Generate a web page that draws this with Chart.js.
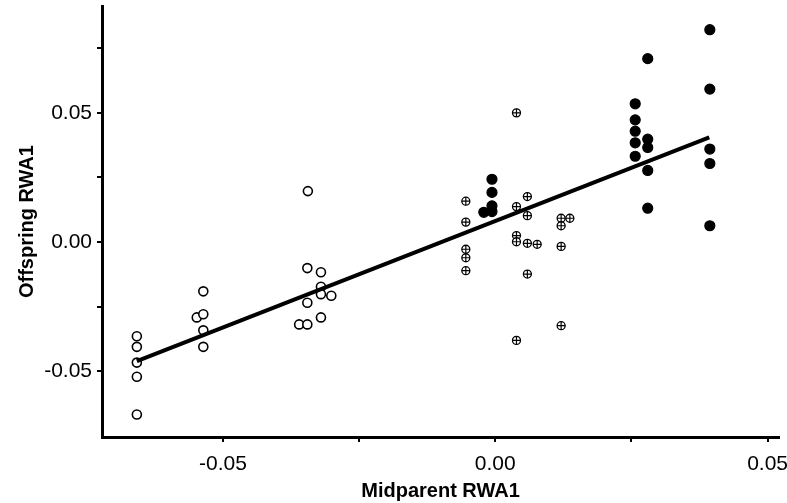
<!DOCTYPE html>
<html>
<head>
<meta charset="utf-8">
<script src="https://cdn.jsdelivr.net/npm/chart.js@4"></script>
<style>
  html, body { margin: 0; padding: 0; background: #fff; }
  #wrap { width: 787px; height: 503px; }
</style>
</head>
<body>
<div id="wrap"><canvas id="grafico"></canvas></div>
<script>
// open circles
const openX = [-0.0658, -0.0658, -0.0658, -0.0658, -0.0658,
  -0.0548, -0.0536, -0.0536, -0.0536, -0.0536,
  -0.0344, -0.0345, -0.0320, -0.0320, -0.0320, -0.0301, -0.0345, -0.0320, -0.0360, -0.0345];
const openY = [-0.0365, -0.0406, -0.0467, -0.0522, -0.0668,
  -0.0292, -0.0191, -0.0280, -0.0342, -0.0406,
  0.0197, -0.0101, -0.0117, -0.0173, -0.0202, -0.0208, -0.0235, -0.0292, -0.0319, -0.0319];

// crossed circles
const crossX = [-0.0054, -0.0054, -0.0054, -0.0054, -0.0054,
  0.0039, 0.0059, 0.0039, 0.0059, 0.0121, 0.0137, 0.0121, 0.0039, 0.0039,
  0.0059, 0.0077, 0.0121, 0.0059, 0.0121, 0.0039];
const crossY = [0.0158, 0.0077, -0.0028, -0.0061, -0.0111,
  0.0500, 0.0176, 0.0137, 0.0102, 0.0092, 0.0092, 0.0063, 0.0025, 0.0001,
  -0.0005, -0.0009, -0.0017, -0.0124, -0.0324, -0.0381];

// filled circles
const fillX = [-0.0006, -0.0006, -0.0006, -0.0006, -0.0021,
  0.0257, 0.0257, 0.0257, 0.0257, 0.0257,
  0.0280, 0.0280, 0.0280, 0.0280, 0.0280,
  0.0394, 0.0394, 0.0394, 0.0394, 0.0394];
const fillY = [0.0243, 0.0192, 0.0140, 0.0118, 0.0115,
  0.0535, 0.0473, 0.0429, 0.0384, 0.0332,
  0.0710, 0.0398, 0.0366, 0.0277, 0.0131,
  0.0822, 0.0592, 0.0360, 0.0304, 0.0063];

// regression line ends
const fitX = [-0.0658, 0.0393];
const fitY = [-0.0461, 0.0405];

const xTicks = [-0.05, -0.025, 0, 0.025, 0.05];
const xLabels = ['-0.05', '', '0.00', '', '0.05'];
const yTicks = [-0.05, -0.025, 0, 0.025, 0.05, 0.075];
const yLabels = ['-0.05', '', '0.00', '', '0.05', ''];

const pts = (xs, ys) => xs.map((x, i) => ({ x, y: ys[i] }));

const fonte = { family: 'Liberation Sans, Arial, sans-serif', size: 21 };
const fonteTitulo = { family: 'Liberation Sans, Arial, sans-serif', size: 20, weight: 'bold' };

const ctx = document.getElementById('grafico').getContext('2d');
new Chart(ctx, {
  type: 'scatter',
  data: {
    datasets: [
      {
        data: pts(fitX, fitY),
        showLine: true,
        borderColor: '#000',
        borderWidth: 4,
        pointRadius: 0
      },
      {
        data: pts(crossX, crossY),
        pointStyle: 'cross',
        pointRadius: 4,
        borderColor: '#000',
        borderWidth: 1.2
      },
      {
        data: pts(crossX, crossY),
        pointStyle: 'circle',
        pointRadius: 4,
        backgroundColor: '#fff',
        borderColor: '#000',
        borderWidth: 1.3
      },
      {
        data: pts(openX, openY),
        pointStyle: 'circle',
        pointRadius: 4.5,
        backgroundColor: '#fff',
        borderColor: '#000',
        borderWidth: 1.6
      },
      {
        data: pts(fillX, fillY),
        pointStyle: 'circle',
        pointRadius: 5,
        backgroundColor: '#000',
        borderColor: '#000',
        borderWidth: 1.2
      }
    ]
  },
  options: {
    responsive: true,
    maintainAspectRatio: false,
    animation: false,
    layout: { padding: { left: 0, right: 8, top: 0, bottom: 0 } },
    plugins: { legend: { display: false }, tooltip: { enabled: false } },
    scales: {
      x: {
        type: 'linear',
        min: -0.0722,
        max: 0.0521,
        afterBuildTicks: s => { s.ticks = xTicks.map(v => ({ value: v })); },
        afterFit: s => { s.height = 66; s.paddingLeft = 0; s.paddingRight = 0; },
        ticks: {
          callback: (v, i) => xLabels[i],
          color: '#000',
          font: fonte,
          padding: 10,
          maxRotation: 0
        },
        grid: { drawOnChartArea: false, drawTicks: true, tickLength: 5, color: '#000', lineWidth: 2 },
        border: { display: true, color: '#000', width: 3 },
        title: { display: true, text: 'Midparent RWA1', color: '#000', font: fonteTitulo, padding: { top: 0, bottom: 0 } }
      },
      y: {
        type: 'linear',
        min: -0.0755,
        max: 0.0913,
        afterBuildTicks: s => { s.ticks = yTicks.map(v => ({ value: v })); },
        afterFit: s => { s.width = 102; s.paddingTop = 0; s.paddingBottom = 0; },
        ticks: {
          callback: (v, i) => yLabels[i],
          color: '#000',
          font: fonte,
          padding: 5
        },
        grid: { drawOnChartArea: false, drawTicks: true, tickLength: 5, color: '#000', lineWidth: 2 },
        border: { display: true, color: '#000', width: 3 },
        title: { display: true, text: 'Offspring RWA1', color: '#000', font: fonteTitulo, padding: { top: 15, bottom: 0 } }
      }
    }
  }
});
</script>
</body>
</html>
